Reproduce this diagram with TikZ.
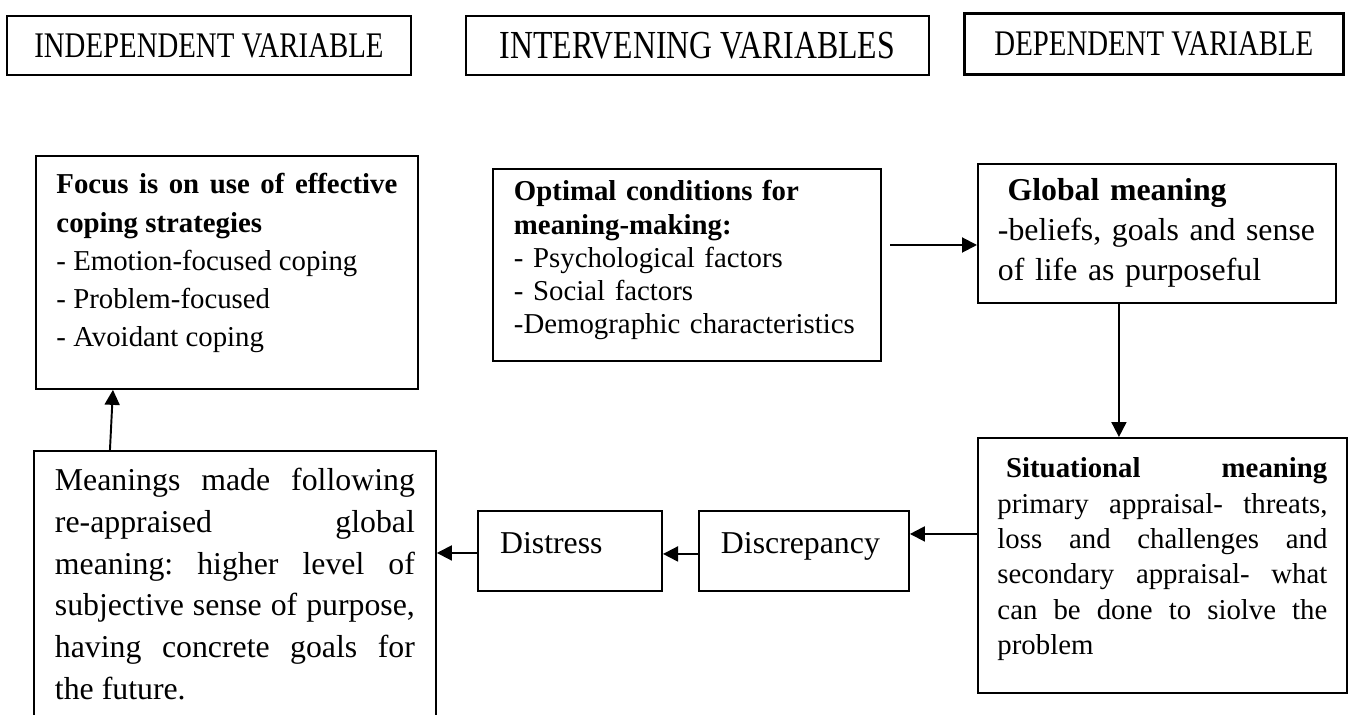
\documentclass[tikz,border=0pt]{standalone}
\usepackage{fontspec}
\setmainfont{Liberation Serif}
\usepackage{graphicx}
\usetikzlibrary{arrows.meta,positioning}
\hyphenpenalty=10000
\exhyphenpenalty=10000
\tolerance=10000
\frenchspacing
\newcommand{\estirar}[1]{\scalebox{1}[1.25]{#1}}
\tikzset{
  titulo/.style={rectangle, draw=black, line width=1.1pt, anchor=north west,
                 inner sep=0pt, align=center},
  caja/.style={rectangle, draw=black, line width=1.1pt, anchor=north west,
               inner ysep=0.2cm},
  chica/.style={caja, text height=0.66cm, text depth=0.54cm, align=left,
                inner xsep=0.44cm, font=\fontsize{18.1}{22}\selectfont},
  flecha/.style={-{Triangle[length=0.3cm, width=0.3cm]}, line width=1.1pt}
}

\begin{document}
\begin{tikzpicture}[x=0.02cm, y=-0.02cm]
  \useasboundingbox (0,0) rectangle (1348,715);

  % Encabezados
  \node[titulo, minimum width=8.08cm, minimum height=1.18cm,
        font=\fontsize{16.4}{20}\selectfont] (h1) at (6,15) {\estirar{INDEPENDENT VARIABLE}};
  \node[titulo, minimum width=9.26cm, minimum height=1.18cm,
        font=\fontsize{18.1}{20}\selectfont] (h2) at (465,15) {\estirar{INTERVENING VARIABLES}};
  \node[titulo, minimum width=7.58cm, minimum height=1.22cm, line width=1.6pt,
        font=\fontsize{16.4}{20}\selectfont] (h3) at (963,12) {\estirar{DEPENDENT VARIABLE}};

  % Fila superior
  \node[caja, text width=6.82cm, inner xsep=0.41cm, text height=0.56cm, text depth=3.70cm,
        align=justify, font=\fontsize{16.4}{21.7}\selectfont] (foco) at (35,155)
       {\textbf{Focus is on use of effective\linebreak coping strategies}\\
        - Emotion-focused coping\\
        - Problem-focused\\
        - Avoidant coping};
  \node[caja, text width=6.92cm, inner xsep=0.42cm, text height=0.44cm, text depth=3.0cm,
        align=left, font=\fontsize{16.4}{18.9}\selectfont] (optim) at (492,168)
       {\textbf{Optimal conditions for\\meaning-making:}\\
        - Psychological factors\\
        - Social factors\\
        -Demographic characteristics};
  \node[caja, text width=6.36cm, inner xsep=0.4cm, text height=0.54cm, text depth=1.84cm,
        align=left, font=\fontsize{18.1}{22.7}\selectfont] (glob) at (977,163)
       {\hspace{0.3em}\textbf{Global meaning}\\
        -beliefs, goals and sense\\
        of life as purposeful};

  % Fila inferior
  \node[caja, text width=6.6cm, inner xsep=0.39cm, text height=0.6cm, text depth=4.1cm,
        align=justify, font=\fontsize{16.4}{20.1}\selectfont] (sit) at (977,437)
       {\hspace{0.3em}\textbf{Situational meaning}\linebreak primary appraisal- threats,\linebreak
        loss and challenges and\linebreak secondary appraisal- what\linebreak
        can be done to siolve the\linebreak problem};
  \node[chica, text width=3.32cm] (disc) at (698,510) {Discrepancy};
  \node[chica, text width=2.8cm, anchor=east, left=0.7cm of disc] (dist) {Distress};
  \node[caja, text width=7.2cm, inner xsep=0.42cm, text height=0.6cm, text depth=5.0cm,
        align=justify, font=\fontsize{18.1}{23.7}\selectfont] (sig) at (33,450)
       {Meanings made following\linebreak re-appraised global\linebreak
        meaning: higher level of\linebreak subjective sense of purpose,\linebreak
        having concrete goals for\linebreak the future.};

  % Conectores
  \coordinate (og) at (890,245);
  \draw[flecha] (og) -- (og -| glob.west);
  \draw[flecha] ([xshift=-0.76cm]glob.south) -- ([xshift=-0.76cm]glob.south |- sit.north);
  \draw[flecha] ([yshift=0.34cm]disc.east -| sit.west) -- ([yshift=0.34cm]disc.east);
  \draw[flecha] ([yshift=-0.06cm]disc.west) -- ([yshift=-0.06cm]disc.west -| dist.east);
  \draw[flecha] ([yshift=-0.04cm]dist.west) -- ([yshift=-0.04cm]dist.west -| sig.east);
  \draw[flecha] ([xshift=-2.5cm]sig.north) -- ([xshift=-2.28cm]foco.south);
\end{tikzpicture}
\end{document}
